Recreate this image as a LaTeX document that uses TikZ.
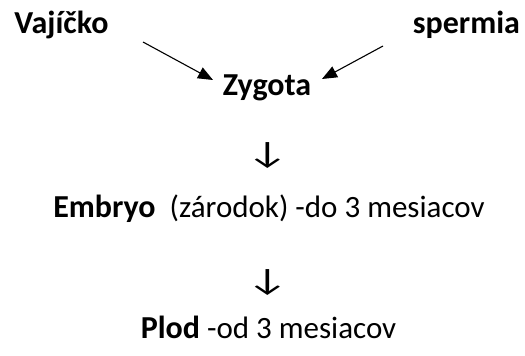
\documentclass[tikz,border=0pt]{standalone}
\usepackage{fontspec}
\setmainfont{Carlito}
\usetikzlibrary{arrows.meta}
\begin{document}
\begin{tikzpicture}[x=1pt,y=-1pt,
  lbl/.style={inner sep=0pt,anchor=base,font=\fontsize{31}{36}\selectfont},
  bl/.style={lbl,font=\fontsize{32}{36}\selectfont\bfseries},
  darr/.style={lbl},
  conn/.style={line width=1.1pt,-{Triangle[length=15pt,width=12pt]}}]
\useasboundingbox (0,0) rectangle (525,356);
\node[bl] (v) at (61.5,33) {Vajíčko};
\node[bl] (s) at (466.5,33) {spermia};
\node[bl] (z) at (267,95) {Zygota};
\coordinate (va) at (143,42);
\coordinate (vt) at (213,80);
\coordinate (sa) at (383,46);
\coordinate (st) at (322,79);
\draw[conn] (va) -- (vt);
\draw[conn] (sa) -- (st);
\node[darr] (d1) at (267.5,163) {\scalebox{1.5}[1]{↓}};
\node[lbl] (e) at (269,217) {{\fontsize{32}{36}\selectfont\bfseries Embryo}\ \ (zárodok) -do 3 mesiacov};
\node[darr] (d2) at (267.5,290) {\scalebox{1.5}[1]{↓}};
\node[lbl] (p) at (268.5,338) {{\fontsize{32}{36}\selectfont\bfseries Plod} -od 3 mesiacov};
\end{tikzpicture}
\end{document}
